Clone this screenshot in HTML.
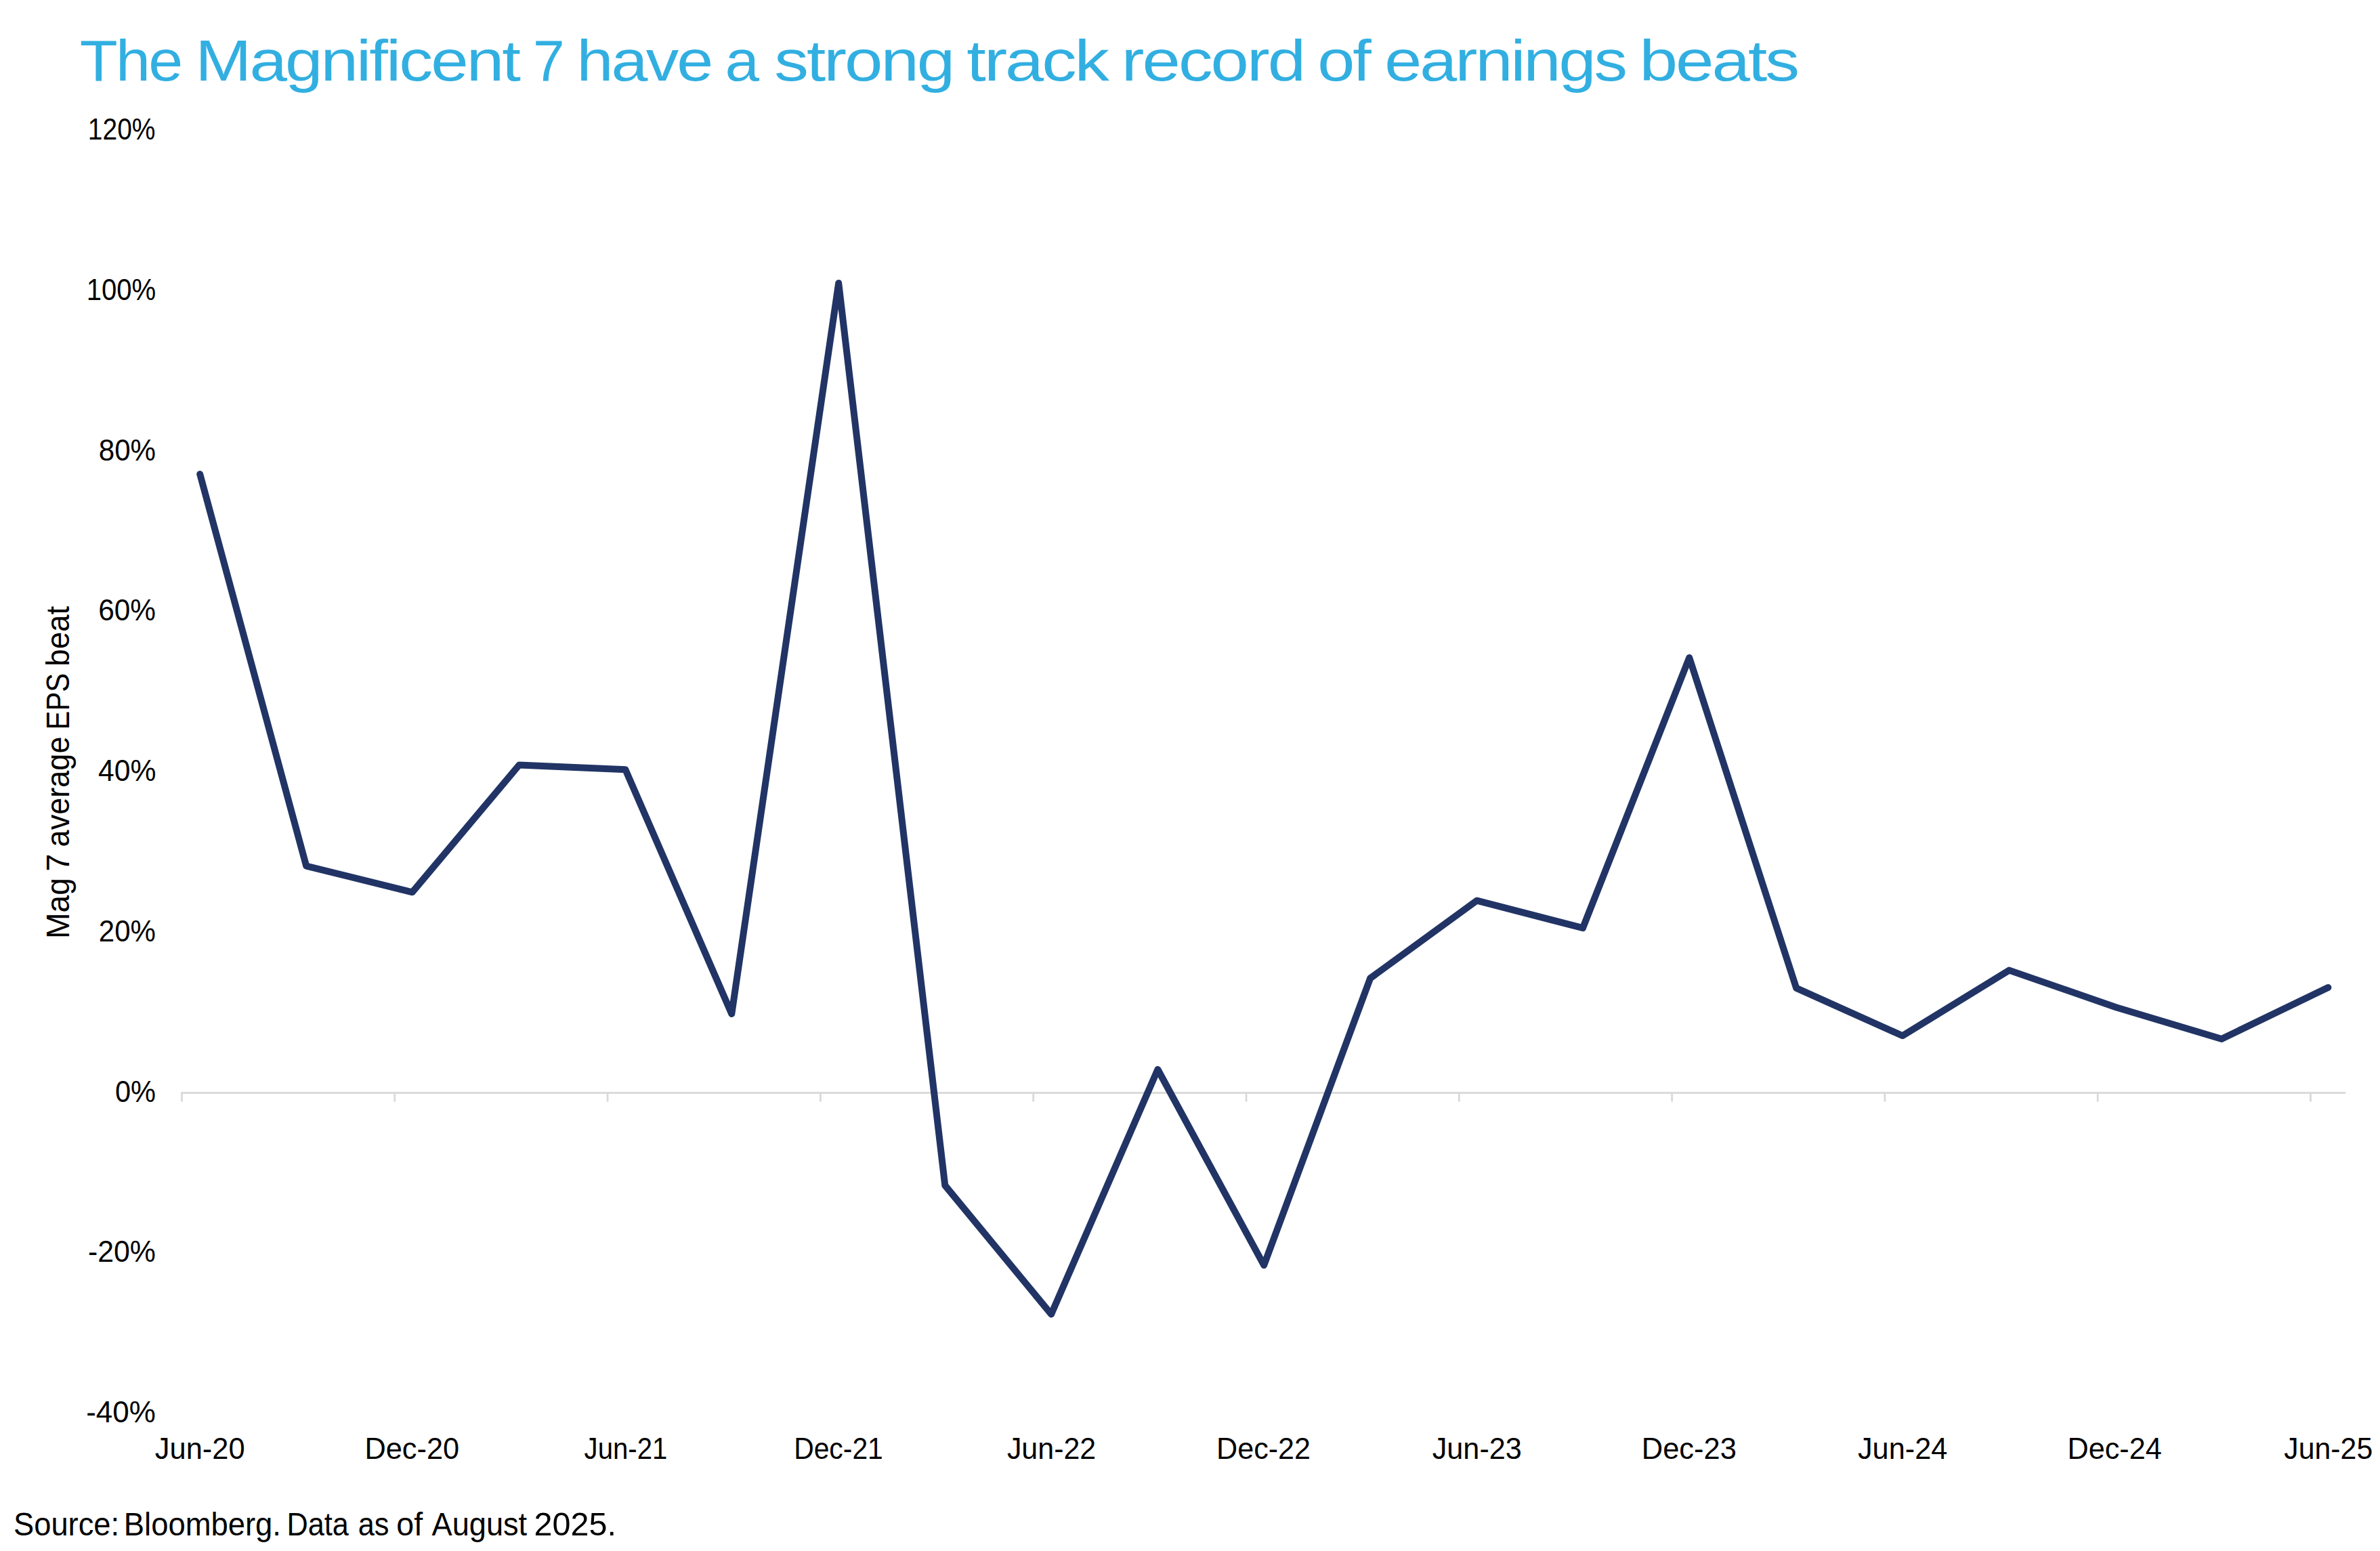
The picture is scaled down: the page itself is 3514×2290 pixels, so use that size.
<!DOCTYPE html>
<html lang="en">
<head>
<meta charset="utf-8">
<title>The Magnificent 7 have a strong track record of earnings beats</title>
<style>
  html, body { margin: 0; padding: 0; background: #ffffff; }
  body { width: 3514px; height: 2290px; overflow: hidden; }
  svg { display: block; }
  text { font-family: "Liberation Sans", Arial, Helvetica, sans-serif; }
  .title { fill: #32afe1; font-size: 84.5px; letter-spacing: -2.5px; }
  .yl { fill: #000000; font-size: 43.6px; }
  .xl { fill: #000000; font-size: 43.5px; }
  .src { fill: #000000; font-size: 48px; }
  .yt { fill: #000000; font-size: 48.7px; }
</style>
</head>
<body>
<svg width="3514" height="2290" viewBox="0 0 3514 2290">
<rect x="0" y="0" width="3514" height="2290" fill="#ffffff"/>

<!-- chart title -->
<text class="title" y="118.70"><tspan x="117.72" textLength="149.88" lengthAdjust="spacingAndGlyphs">The</tspan> <tspan x="288.33" textLength="477.73" lengthAdjust="spacingAndGlyphs">Magnificent</tspan> <tspan x="786.93" textLength="44.17" lengthAdjust="spacingAndGlyphs">7</tspan> <tspan x="851.50" textLength="198.99" lengthAdjust="spacingAndGlyphs">have</tspan> <tspan x="1070.54" textLength="47.93" lengthAdjust="spacingAndGlyphs">a</tspan> <tspan x="1143.35" textLength="263.86" lengthAdjust="spacingAndGlyphs">strong</tspan> <tspan x="1427.39" textLength="207.51" lengthAdjust="spacingAndGlyphs">track</tspan> <tspan x="1655.88" textLength="269.13" lengthAdjust="spacingAndGlyphs">record</tspan> <tspan x="1945.15" textLength="76.76" lengthAdjust="spacingAndGlyphs">of</tspan> <tspan x="2044.32" textLength="355.82" lengthAdjust="spacingAndGlyphs">earnings</tspan> <tspan x="2420.45" textLength="233.65" lengthAdjust="spacingAndGlyphs">beats</tspan></text>
<!-- y axis tick labels -->
<g class="yl">
  <text x="129.82" y="206.00" textLength="99.68" lengthAdjust="spacingAndGlyphs">120%</text>
  <text x="127.70" y="442.75" textLength="102.52" lengthAdjust="spacingAndGlyphs">100%</text>
  <text x="145.75" y="679.50" textLength="84.25" lengthAdjust="spacingAndGlyphs">80%</text>
  <text x="145.23" y="916.25" textLength="84.76" lengthAdjust="spacingAndGlyphs">60%</text>
  <text x="144.96" y="1153.00" textLength="85.37" lengthAdjust="spacingAndGlyphs">40%</text>
  <text x="145.80" y="1389.75" textLength="84.10" lengthAdjust="spacingAndGlyphs">20%</text>
  <text x="169.94" y="1626.50" textLength="60.07" lengthAdjust="spacingAndGlyphs">0%</text>
  <text x="129.96" y="1863.25" textLength="99.95" lengthAdjust="spacingAndGlyphs">-20%</text>
  <text x="127.22" y="2100.00" textLength="102.53" lengthAdjust="spacingAndGlyphs">-40%</text>
</g>
<!-- x axis tick labels -->
<g class="xl">
  <text x="228.87" y="2154.10" textLength="132.72" lengthAdjust="spacingAndGlyphs">Jun-20</text>
  <text x="538.48" y="2154.10" textLength="139.72" lengthAdjust="spacingAndGlyphs">Dec-20</text>
  <text x="862.58" y="2154.10" textLength="122.73" lengthAdjust="spacingAndGlyphs">Jun-21</text>
  <text x="1172.15" y="2154.10" textLength="131.68" lengthAdjust="spacingAndGlyphs">Dec-21</text>
  <text x="1486.89" y="2154.10" textLength="131.35" lengthAdjust="spacingAndGlyphs">Jun-22</text>
  <text x="1796.06" y="2154.10" textLength="138.96" lengthAdjust="spacingAndGlyphs">Dec-22</text>
  <text x="2114.68" y="2154.10" textLength="132.26" lengthAdjust="spacingAndGlyphs">Jun-23</text>
  <text x="2423.82" y="2154.10" textLength="140.12" lengthAdjust="spacingAndGlyphs">Dec-23</text>
  <text x="2742.88" y="2154.10" textLength="132.56" lengthAdjust="spacingAndGlyphs">Jun-24</text>
  <text x="3052.52" y="2154.10" textLength="139.27" lengthAdjust="spacingAndGlyphs">Dec-24</text>
  <text x="3372.31" y="2154.10" textLength="130.98" lengthAdjust="spacingAndGlyphs">Jun-25</text>
</g>
<!-- source note -->
<text class="src" y="2267.10"><tspan x="20.01" textLength="156.04" lengthAdjust="spacingAndGlyphs">Source:</tspan> <tspan x="182.76" textLength="232.22" lengthAdjust="spacingAndGlyphs">Bloomberg.</tspan> <tspan x="423.47" textLength="91.30" lengthAdjust="spacingAndGlyphs">Data</tspan> <tspan x="528.73" textLength="45.69" lengthAdjust="spacingAndGlyphs">as</tspan> <tspan x="585.25" textLength="38.81" lengthAdjust="spacingAndGlyphs">of</tspan> <tspan x="637.59" textLength="140.59" lengthAdjust="spacingAndGlyphs">August</tspan> <tspan x="788.44" textLength="121.47" lengthAdjust="spacingAndGlyphs">2025.</tspan></text>
<!-- y axis title -->
<text class="yt" transform="translate(102.3 0) rotate(-90)" y="0"><tspan x="-1385.95" textLength="89.92" lengthAdjust="spacingAndGlyphs">Mag</tspan> <tspan x="-1286.66" textLength="26.15" lengthAdjust="spacingAndGlyphs">7</tspan> <tspan x="-1250.46" textLength="162.97" lengthAdjust="spacingAndGlyphs">average</tspan> <tspan x="-1077.45" textLength="83.63" lengthAdjust="spacingAndGlyphs">EPS</tspan> <tspan x="-983.75" textLength="88.91" lengthAdjust="spacingAndGlyphs">beat</tspan></text>
<!-- zero axis and ticks -->
<g fill="#d8d8d8">
  <rect x="267.2" y="1612.2" width="3196.1" height="2.7"/>
  <rect x="267.15" y="1613" width="2.7" height="13.6"/>
  <rect x="581.45" y="1613" width="2.7" height="13.6"/>
  <rect x="895.75" y="1613" width="2.7" height="13.6"/>
  <rect x="1210.05" y="1613" width="2.7" height="13.6"/>
  <rect x="1524.35" y="1613" width="2.7" height="13.6"/>
  <rect x="1838.65" y="1613" width="2.7" height="13.6"/>
  <rect x="2152.95" y="1613" width="2.7" height="13.6"/>
  <rect x="2467.25" y="1613" width="2.7" height="13.6"/>
  <rect x="2781.55" y="1613" width="2.7" height="13.6"/>
  <rect x="3095.85" y="1613" width="2.7" height="13.6"/>
  <rect x="3410.15" y="1613" width="2.7" height="13.6"/>
</g>
<!-- data series -->
<polyline points="295.2,700.0 452.2,1278.6 608.8,1317.3 766.4,1129.6 923.4,1136.2 1080.3,1497.0 1238.2,418.0 1395.3,1750.3 1552.1,1940.4 1709.4,1579.0 1866.2,1868.1 2023.1,1444.4 2180.4,1329.7 2337.0,1370.2 2494.2,971.0 2652.2,1458.9 2809.0,1529.3 2966.6,1432.6 3124.2,1487.2 3280.1,1534.0 3437.4,1458.0" fill="none" stroke="#213465" stroke-width="10" stroke-linecap="round" stroke-linejoin="round"/>
</svg>
</body>
</html>
